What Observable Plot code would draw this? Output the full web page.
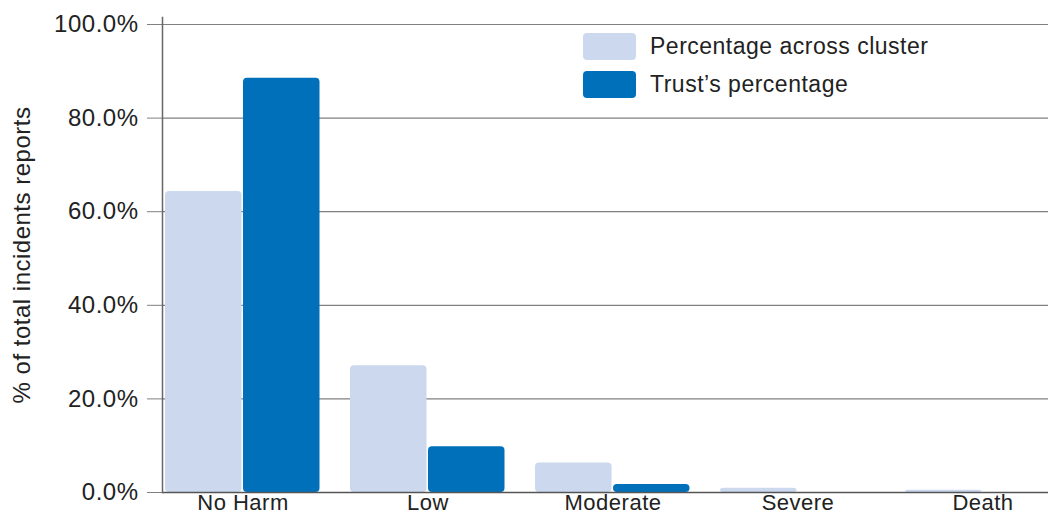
<!DOCTYPE html>
<html>
<head>
<meta charset="utf-8">
<script src="https://cdn.jsdelivr.net/npm/d3@7"></script>
<script src="https://cdn.jsdelivr.net/npm/@observablehq/plot@0.6"></script>
<style>
  html, body { margin: 0; padding: 0; background: #fff; }
  #wrap { position: relative; width: 1060px; height: 520px; font-family: "Helvetica Neue", Helvetica, Arial, "Liberation Sans", sans-serif; }
  #legend { position: absolute; left: 583px; top: 27px; font-size: 23px; letter-spacing: 0.5px; color: #222; }
  .item { display: flex; align-items: center; height: 38px; }
  .sw { width: 53px; height: 27px; border-radius: 4px; margin-right: 14px; }
</style>
</head>
<body>
<div id="wrap">
  <div id="chart"></div>
  <div id="legend"></div>
</div>
<script>
const categories = ["No Harm", "Low", "Moderate", "Severe", "Death"];
const clusterPct = [64.3, 27.1, 6.3, 0.9, 0.5];
const trustPct = [88.5, 9.8, 1.7, 0, 0];
const yTicks = [0, 20, 40, 60, 80, 100];
const seriesNames = ["Percentage across cluster", "Trust\u2019s percentage"];
const seriesColors = ["#cbd8ee", "#0070ba"];

const data = categories.map((c, i) => ({category: c, cluster: clusterPct[i], trust: trustPct[i]}));

const chart = Plot.plot({
  width: 1060,
  height: 520,
  marginLeft: 162,
  marginRight: 12,
  marginTop: 17,
  marginBottom: 28,
  style: {fontFamily: '"Helvetica Neue", Helvetica, Arial, "Liberation Sans", sans-serif', fontSize: "23px", letterSpacing: "0.5px", color: "#222", background: "#fff"},
  x: {domain: categories, range: [149, 1076.5], padding: 0, label: null},
  y: {domain: [0, 100], range: [492, 24], label: null},
  marks: [
    Plot.gridY(yTicks, {stroke: "#808080", strokeOpacity: 1, strokeWidth: 1.2}),
    Plot.barY(data, {x: "category", y: "cluster", fill: seriesColors[0], insetLeft: 15, insetRight: 93.5, rx: 4}),
    Plot.barY(data, {x: "category", y: "trust", fill: seriesColors[1], insetLeft: 93, insetRight: 15.5, rx: 4}),
    Plot.ruleY([0], {stroke: "#555", strokeWidth: 1.5}),
    Plot.axisY(yTicks, {tickSize: 15, tickPadding: 9, stroke: "#808080", tickFormat: d => d.toFixed(1) + "%", fontSize: 24, fill: "#222", label: null}),
    Plot.axisX({tickSize: 0, tickPadding: 2, fontSize: 22, fill: "#222", label: null}),
    Plot.frame({anchor: "left", stroke: "#666", strokeWidth: 1.5}),
    Plot.text(["% of total incidents reports"], {frameAnchor: "left", textAnchor: "middle", dx: -140, rotate: -90, fontSize: 24, fill: "#222"})
  ]
});
document.getElementById("chart").appendChild(chart);

const legend = document.getElementById("legend");
seriesNames.forEach((n, i) => {
  const it = document.createElement("div");
  it.className = "item";
  const sw = document.createElement("div");
  sw.className = "sw";
  sw.style.background = seriesColors[i];
  const t = document.createElement("span");
  t.textContent = n;
  it.appendChild(sw);
  it.appendChild(t);
  legend.appendChild(it);
});
</script>
</body>
</html>
